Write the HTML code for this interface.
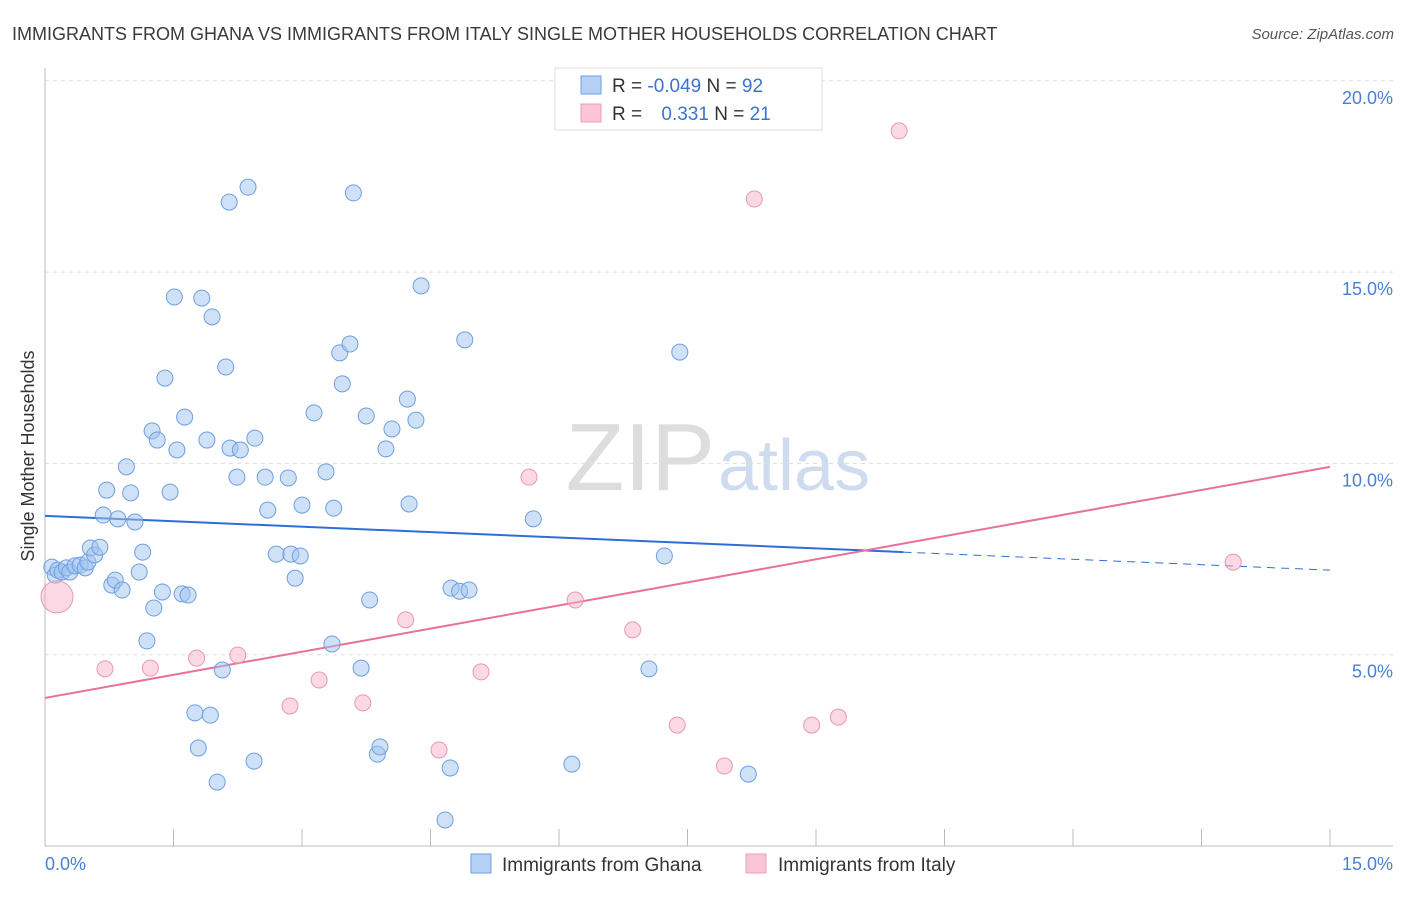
<!DOCTYPE html>
<html><head><meta charset="utf-8"><style>
body{margin:0;background:#fff;font-family:"Liberation Sans",sans-serif;}
svg text{font-family:"Liberation Sans",sans-serif;}
</style></head><body>
<svg id="chart" width="1406" height="892" viewBox="0 0 1406 892">
<text x="12" y="40" font-size="18" fill="#3a3a3a">IMMIGRANTS FROM GHANA VS IMMIGRANTS FROM ITALY SINGLE MOTHER HOUSEHOLDS CORRELATION CHART</text>
<text x="1394" y="39" font-size="15" fill="#555" text-anchor="end" font-style="italic">Source: ZipAtlas.com</text>
<text x="715" y="490" font-size="96" fill="#ddd" text-anchor="end" font-family="Liberation Serif">ZIP</text>
<text x="718" y="490" font-size="72" fill="#cfdcf0">atlas</text>
<g id="grid"></g>
<g id="axes"></g>
<g id="trend"></g>
<g id="pts"></g>
<text transform="translate(34,456) rotate(-90)" font-size="18" fill="#333" text-anchor="middle">Single Mother Households</text>
<g>
<rect x="555" y="68" width="267" height="62" fill="#fff" stroke="#ddd"/>
<rect x="581" y="76" width="20" height="18" fill="#b5d0f5" stroke="#6f9fe0"/>
<rect x="581" y="104" width="20" height="18" fill="#fbc5d5" stroke="#eaa0b8"/>
<text x="612" y="92" font-size="19" fill="#333">R = <tspan fill="#3b73d1">-0.049</tspan>   N = <tspan fill="#3b73d1">92</tspan></text>
<text x="612" y="120" font-size="19" fill="#333">R =  <tspan fill="#3b73d1" dx="14">0.331</tspan>   N = <tspan fill="#3b73d1"> 21</tspan></text>
</g>
<g>
<rect x="471" y="854" width="20" height="19" fill="#b5d0f5" stroke="#6f9fe0"/>
<text x="502" y="871" font-size="19" fill="#333">Immigrants from Ghana</text>
<rect x="746" y="854" width="20" height="19" fill="#fbc5d5" stroke="#eaa0b8"/>
<text x="778" y="871" font-size="19" fill="#333">Immigrants from Italy</text>
</g>
</svg>
<script>
const yTicks=[5,10,15,20];
const yTickLabels=["5.0%","10.0%","15.0%","20.0%"];
const xTickLabels=["0.0%","15.0%"];
const ghanaX=[0.08,0.12,0.15,0.20,0.25,0.29,0.35,0.41,0.47,0.50,0.53,0.58,0.64,0.68,0.72,0.78,0.82,0.85,0.90,0.95,1.00,1.05,1.10,1.14,1.19,1.25,1.27,1.31,1.37,1.40,1.46,1.51,1.54,1.60,1.63,1.67,1.75,1.79,1.83,1.89,1.93,1.95,2.01,2.07,2.11,2.15,2.16,2.24,2.28,2.37,2.44,2.45,2.57,2.60,2.70,2.84,2.87,2.92,2.98,3.00,3.14,3.28,3.35,3.37,3.44,3.47,3.56,3.60,3.69,3.75,3.79,3.88,3.91,3.98,4.05,4.23,4.25,4.33,4.39,4.67,4.73,4.74,4.84,4.90,4.95,5.70,6.15,7.05,7.23,7.41,8.21];
const ghanaY=[7.29,7.08,7.21,7.16,7.27,7.16,7.32,7.34,7.27,7.42,7.79,7.61,7.81,8.65,9.30,6.82,6.95,8.55,6.69,9.91,9.23,8.47,7.16,7.68,5.36,10.85,6.22,10.61,6.64,12.23,9.25,14.35,10.35,6.59,11.21,6.56,3.48,2.56,14.32,10.61,3.42,13.83,1.67,4.60,12.52,16.83,10.40,9.64,10.35,17.22,2.22,10.66,9.64,8.78,7.63,9.62,7.63,7.00,7.58,8.91,11.32,9.78,5.28,8.83,12.89,12.08,13.12,17.07,4.65,11.24,6.43,2.40,2.59,10.38,10.90,11.68,8.94,11.13,14.64,0.68,2.04,6.74,6.66,13.23,6.69,8.55,2.14,4.63,7.58,12.91,1.88];
const italyX=[0.14,0.70,1.23,1.77,2.25,2.86,3.20,3.71,4.21,4.60,5.09,5.65,6.19,6.86,7.38,7.93,8.28,8.95,9.26,9.97,13.87];
const italyY=[6.51,4.63,4.65,4.91,4.99,3.66,4.34,3.74,5.91,2.51,4.55,9.64,6.43,5.65,3.16,2.09,16.91,3.16,3.37,18.69,7.42];
const italySize=[16,8,8,8,8,8,8,8,8,8,8,8,8,8,8,8,8,8,8,8,8];
const ghanaTrend=[8.63,7.21]; const ghanaSolidEnd=10.02;
const italyTrend=[3.87,9.91];
const NS="http://www.w3.org/2000/svg";
function X(v){return 45+v/15*1285;}
function Y(v){return 846-v/5*191.3;}
function mk(t,a,p){const e=document.createElementNS(NS,t);for(const k in a)e.setAttribute(k,a[k]);p.appendChild(e);return e;}
const grid=document.getElementById('grid'),axes=document.getElementById('axes');
yTicks.forEach((t,i)=>{
 const l=mk('line',{x1:45,x2:1393,y1:Y(t),y2:Y(t),stroke:'#ddd','stroke-dasharray':'4,4'},grid);
 
 
 const tx=mk('text',{x:1393,y:Y(t)+23,'font-size':18,fill:'#4a7fd4','text-anchor':'end'},axes);
 tx.textContent=yTickLabels[i];
 
 
});
mk('line',{x1:45,x2:45,y1:68,y2:846,stroke:'#bbb'},axes);
mk('line',{x1:45,x2:1393,y1:846,y2:846,stroke:'#bbb'},axes);
for(let i=1;i<=10;i++){const e=mk('line',{x1:X(i*1.5),x2:X(i*1.5),y1:829,y2:846,stroke:'#bbb'},axes);
 
 }
const xl0=mk('text',{x:45,y:870,'font-size':18,fill:'#4a7fd4'},axes);xl0.textContent=xTickLabels[0];


const xl1=mk('text',{x:1393,y:870,'font-size':18,fill:'#4a7fd4','text-anchor':'end'},axes);xl1.textContent=xTickLabels[1];


const pts=document.getElementById('pts');
ghanaX.forEach((x,i)=>{const c=mk('circle',{cx:X(x),cy:Y(ghanaY[i]),r:8,fill:'rgba(160,195,240,0.5)',stroke:'#6f9fe0','stroke-width':1},pts);
 
 });
italyX.forEach((x,i)=>{const c=mk('circle',{cx:X(x),cy:Y(italyY[i]),r:italySize[i],fill:'rgba(248,180,202,0.5)',stroke:'#e898b2','stroke-width':1},pts);
 
 });
const tr=document.getElementById('trend');
function ty(a,x){return a[0]+(a[1]-a[0])*x/15;}
const b1=mk('line',{x1:X(0),y1:Y(ghanaTrend[0]),x2:X(ghanaSolidEnd),y2:Y(ty(ghanaTrend,ghanaSolidEnd)),stroke:'#2d6fd6','stroke-width':2},tr);


const b2=mk('line',{x1:X(ghanaSolidEnd),y1:Y(ty(ghanaTrend,ghanaSolidEnd)),x2:X(15),y2:Y(ghanaTrend[1]),stroke:'#2d6fd6','stroke-width':1,'stroke-dasharray':'8,6'},tr);


const p1=mk('line',{x1:X(0),y1:Y(italyTrend[0]),x2:X(15),y2:Y(italyTrend[1]),stroke:'#e8709a','stroke-width':2},tr);


</script>
</body></html>
